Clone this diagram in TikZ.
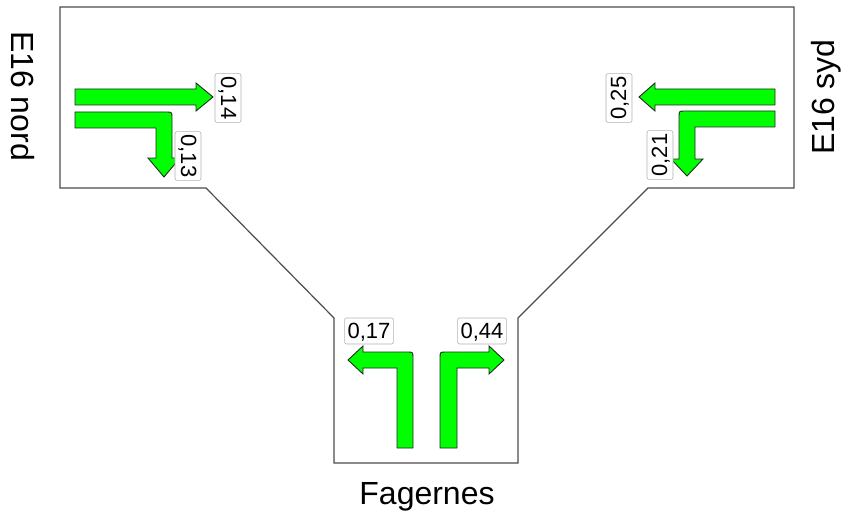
\documentclass[tikz,border=0pt]{standalone}
\usepackage{fontspec}
\setmainfont{Liberation Sans}
\usepackage{tikz}
\usetikzlibrary{positioning}
\tikzset{lane/.style = {draw=black!85, fill=green, line width=0.9pt, line join=miter}}
\tikzset{flow/.style = {draw=black!30, fill=white, rounded corners=2pt, line width=0.6pt,
                        inner xsep=3pt, inner ysep=4pt, text height=16pt, text depth=2pt,
                        font=\fontsize{22}{22}\selectfont}}
\tikzset{arm/.style = {font=\fontsize{32}{32}\selectfont}}

\begin{document}
\begin{tikzpicture}[x=1pt, y=-1pt]
    \useasboundingbox (0, 0) rectangle (847, 519);

    % junction outline
    \draw [black!70, line width=1.2pt] (60, 7) -- (794, 7) -- (794, 188) -- (648, 188)
        -- (518, 318) -- (518, 463) -- (334, 463) -- (334, 318) -- (206, 188)
        -- (60, 188) -- cycle;

    % E16 nord
    \draw [lane] (75, 89) -- (196, 89) -- (196, 83) -- (213, 97) -- (196, 111)
        -- (196, 105) -- (75, 105) -- cycle;
    \draw [lane] (75, 112) -- (166, 112) .. controls (172, 112) .. (172, 118)
        -- (172, 158) -- (180, 158) -- (164, 177) -- (148, 158) -- (156, 158)
        -- (156, 128) -- (75, 128) -- cycle;

    % E16 syd
    \draw [lane] (775, 89) -- (655, 89) -- (655, 83) -- (639, 97) -- (655, 111)
        -- (655, 105) -- (775, 105) -- cycle;
    \draw [lane] (775, 111) -- (685, 111) .. controls (679, 111) .. (679, 117)
        -- (679, 159) -- (671, 159) -- (687, 176) -- (703, 159) -- (695, 159)
        -- (695, 127) -- (775, 127) -- cycle;

    % Fagernes
    \draw [lane] (397, 448) -- (413, 448) -- (413, 358) .. controls (413, 352) .. (407, 352)
        -- (363, 352) -- (363, 346) -- (348, 360) -- (363, 374) -- (363, 368)
        -- (397, 368) -- cycle;
    \draw [lane] (457, 448) -- (440, 448) -- (440, 358) .. controls (440, 352) .. (446, 352)
        -- (489, 352) -- (489, 346) -- (504, 360) -- (489, 374) -- (489, 368)
        -- (457, 368) -- cycle;

    \node [flow, rotate=-90] (nordrett) at (228, 98) {0,14};
    \node [flow, rotate=-90] (nordhoyre) at (188, 156) {0,13};
    \node [flow, rotate=90] (sydrett) at (619, 98) {0,25};
    \node [flow, rotate=90] (sydvenstre) at (660, 155) {0,21};
    \node [flow] (fagvenstre) at (369, 331) {0,17};
    \node [flow] (faghoyre) at (482, 331) {0,44};

    \node [arm, rotate=-90] (nord) at (23, 96) {E16 nord};
    \node [arm, rotate=90] (syd) at (826, 97) {E16 syd};
    \node [arm] (fagernes) at (427, 497) {Fagernes};
  \end{tikzpicture}
\end{document}
